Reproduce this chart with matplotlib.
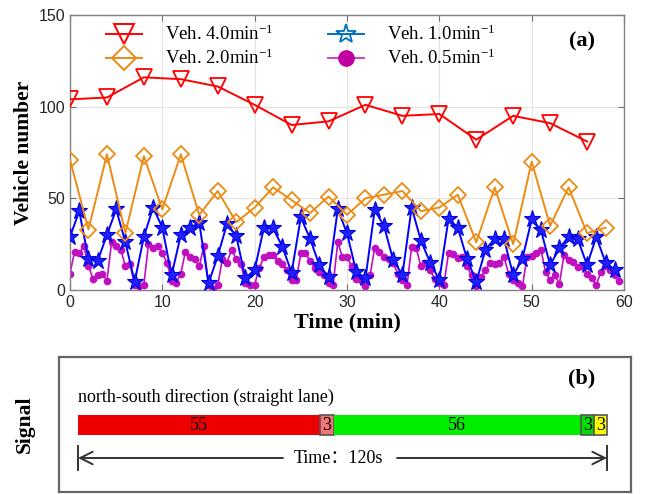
import matplotlib
matplotlib.use("Agg")
import matplotlib.pyplot as plt
from matplotlib.lines import Line2D
import numpy as np

plt.rcParams["mathtext.fontset"] = "custom"
plt.rcParams["mathtext.rm"] = "Liberation Serif"
plt.rcParams["mathtext.it"] = "Liberation Serif:italic"
plt.rcParams["mathtext.bf"] = "Liberation Serif:bold"

# ---------------- data ----------------
t_red = [0, 4, 8, 12, 16, 20, 24, 28, 32, 36, 40, 44, 48, 52, 56]
v_red = [104, 105, 116, 115, 111, 101, 90, 92, 101, 95, 96, 82, 95, 91, 81]

t_orange = list(range(0, 60, 2))
v_orange = [71, 33, 74, 31, 73, 44, 74, 41, 54, 37, 45, 56, 49, 42, 51,
            41, 50, 52, 54, 43, 45, 52, 26, 56, 25, 70, 35, 56, 31, 34]

t_blue = list(range(0, 60))
v_blue = [29, 43, 17, 16, 30, 44, 26, 4.5, 29, 45, 34, 8, 30, 34, 36.5,
          3.6, 18.5, 36, 29.5, 6.4, 11, 34, 33.6, 23.6, 9.5, 39.6, 28, 13.6, 7, 44,
          31, 10, 6.4, 43.6, 35, 16.4, 8.2, 45, 27, 15, 5.5, 39, 34, 17, 4.5,
          22, 28, 28, 8, 17, 38.5, 32.7, 13.6, 22.7, 29, 27.6, 13.6, 29, 15, 11]

t_mag = [i * 0.5 for i in range(120)]
v_mag = [9, 21, 20, 24, 13, 6, 8, 9, 5, 26,
         24, 22, 13, 14, 3, 2, 3, 25, 23, 24,
         20, 15, 5, 4, 9, 21, 18, 17, 13, 24,
         3, 0.5, 2.5, 17, 15, 22, 17, 14, 4, 3,
         3, 12, 18, 19, 19, 16, 14, 11, 5.5, 5.5,
         20, 20, 16, 12, 10, 8, 4, 3, 26, 18,
         18, 13, 6, 5.5, 2, 8, 23, 21, 18, 17,
         14.5, 9, 5.5, 2.7, 23.6, 22.7, 13, 15, 11, 6,
         4, 3, 20.4, 19.6, 17.3, 18, 13, 8, 2, 7,
         11, 15, 14, 15, 18, 9, 5.5, 3.6, 2, 18,
         18.5, 20, 22, 10, 5.5, 8, 3.3, 19, 16.4, 15.5,
         12.7, 13, 9, 6.4, 2.7, 10, 13, 11, 8, 5]

labels = ["Veh. 4.0min$^{-1}$", "Veh. 2.0min$^{-1}$",
          "Veh. 1.0min$^{-1}$", "Veh. 0.5min$^{-1}$"]

x_ticks = [0, 10, 20, 30, 40, 50, 60]
y_ticks = [0, 50, 100, 150]

seg_dur = [55, 3, 56, 3, 3]
seg_txt = ["55", "3", "56", "3", "3"]
seg_col = ["#EE0000", "#F27474", "#00EE00", "#00DD00", "#FFFF00"]
seg_edge = [None, "#555555", None, "#555555", "#555555"]
cycle_len = 120

# ---------------- figure ----------------
W, H = 645, 494
fig = plt.figure(figsize=(W / 100, H / 100), dpi=100)

def fx(px):
    return px / W

def fy(py):
    return 1 - py / H

serif = "Liberation Serif"
sans = "Liberation Sans"

ax = fig.add_axes([fx(70), fy(290), fx(624) - fx(70), fy(15) - fy(290)])
ax.plot(t_red, v_red, color="#FF0000", lw=1.4, marker="v", ms=11,
        mfc="none", mec="#FF0000", mew=1.3, zorder=5)
ax.plot(t_orange, v_orange, color="#EC8C14", lw=1.4, marker="D", ms=8.5,
        mfc="none", mec="#EC8C14", mew=1.3, zorder=4)
ax.plot(t_blue, v_blue, color="#0000FF", lw=1.4, marker="*", ms=12.5,
        mfc="#2020FF", mec="#0000DD", mew=0.8, zorder=3)
ax.plot(t_mag, v_mag, color="#C010C0", lw=1.2, marker="o", ms=4.5,
        mfc="#C010C0", mec="#C010C0", zorder=2)

ax.set_xlim(0, 60)
ax.set_ylim(0, 150)
ax.set_xticks(x_ticks)
ax.set_yticks(y_ticks)
ax.grid(True, color="#E3E3E3", lw=0.8)
ax.set_axisbelow(True)
ax.tick_params(direction="in", top=True, right=True, length=4,
               color="#707070", labelsize=11.5, labelcolor="#262626")
for lab in ax.get_xticklabels() + ax.get_yticklabels():
    lab.set_family(sans)
for s in ax.spines.values():
    s.set_color("#808080")
    s.set_linewidth(1.0)

ax.set_xlabel("Time (min)", family=serif, fontweight="bold", fontsize=16,
              labelpad=2)
ax.set_ylabel("Vehicle number", family=serif, fontweight="bold", fontsize=15.5,
              labelpad=3)

ax.text(0.924, 0.905, "(a)", transform=ax.transAxes, family=serif,
        fontweight="bold", fontsize=16, ha="center", va="center")

handles = [
    Line2D([], [], color="#FF0000", lw=1.4, marker="v", ms=15, mfc="none",
           mec="#FF0000", mew=1.4),
    Line2D([], [], color="#EC8C14", lw=1.4, marker="D", ms=12, mfc="none",
           mec="#EC8C14", mew=1.4),
    Line2D([], [], color="#0072BD", lw=1.4, marker="*", ms=15, mfc="none",
           mec="#0072BD", mew=1.3),
    Line2D([], [], color="#D040D0", lw=1.4, marker="o", ms=11,
           mfc="#C000A0", mec="#C000A0"),
]
leg = ax.legend(handles, labels, ncol=2, loc="upper left",
                bbox_to_anchor=(0.035, 1.025), frameon=False,
                prop={"family": serif, "size": 13.5},
                handlelength=1.9, columnspacing=2.9, labelspacing=0.25,
                handletextpad=1.25, markerfirst=True)
for lh in leg.legend_handles:
    lh.set_markevery([1])

# ---------------- signal panel ----------------
bx0, bx1, by0, by1 = 59, 631, 357, 492
axb = fig.add_axes([fx(bx0), fy(by1), fx(bx1) - fx(bx0), fy(by0) - fy(by1)])
px_left, px_right = 78, 607
sec_per_px = cycle_len / (px_right - px_left)
axb.set_xlim(-(px_left - bx0) * sec_per_px, cycle_len + (bx1 - px_right) * sec_per_px)
axb.set_ylim(by1, by0)
axb.set_xticks([])
axb.set_yticks([])
for s in axb.spines.values():
    s.set_color("#666666")
    s.set_linewidth(1.6)

starts = np.concatenate([[0], np.cumsum(seg_dur)[:-1]])
for st, d, txt, c, e in zip(starts, seg_dur, seg_txt, seg_col, seg_edge):
    axb.barh(424.5, d, left=st, height=20, color=c,
             edgecolor=(e if e else c), linewidth=(1.2 if e else 0))
    axb.text(st + d / 2, 425, txt, ha="center", va="center", family=serif,
             fontsize=13)

axb.text(0, 397, "north-south direction (straight lane)", ha="left",
         va="center", family=serif, fontsize=13)
axb.text((582 - px_left) * sec_per_px, 378, "(b)", ha="center", va="center",
         family=serif, fontweight="bold", fontsize=16)

arrow_y = 458
tx_center = (338 - px_left) * sec_per_px
axb.text(tx_center, arrow_y, "Time：120s", ha="center", va="center",
         family=[serif, "Noto Sans CJK SC"], fontsize=13)
gap_l = (283 - px_left) * sec_per_px
gap_r = (397 - px_left) * sec_per_px
aprops = dict(arrowstyle="->,head_length=0.9,head_width=0.45", color="#333333",
              lw=1.4, shrinkA=0, shrinkB=0)
axb.annotate("", xy=(0, arrow_y), xytext=(gap_l, arrow_y), arrowprops=aprops)
axb.annotate("", xy=(cycle_len, arrow_y), xytext=(gap_r, arrow_y),
             arrowprops=aprops)
axb.plot([0, 0], [446, 470], color="#333333", lw=1.4)
axb.plot([cycle_len, cycle_len], [446, 470], color="#333333", lw=1.4)

fig.text(fx(25), fy(424), "Signal", rotation=90, ha="center", va="center",
         family=serif, fontweight="bold", fontsize=15.5)

fig.savefig("out.png", dpi=100)
